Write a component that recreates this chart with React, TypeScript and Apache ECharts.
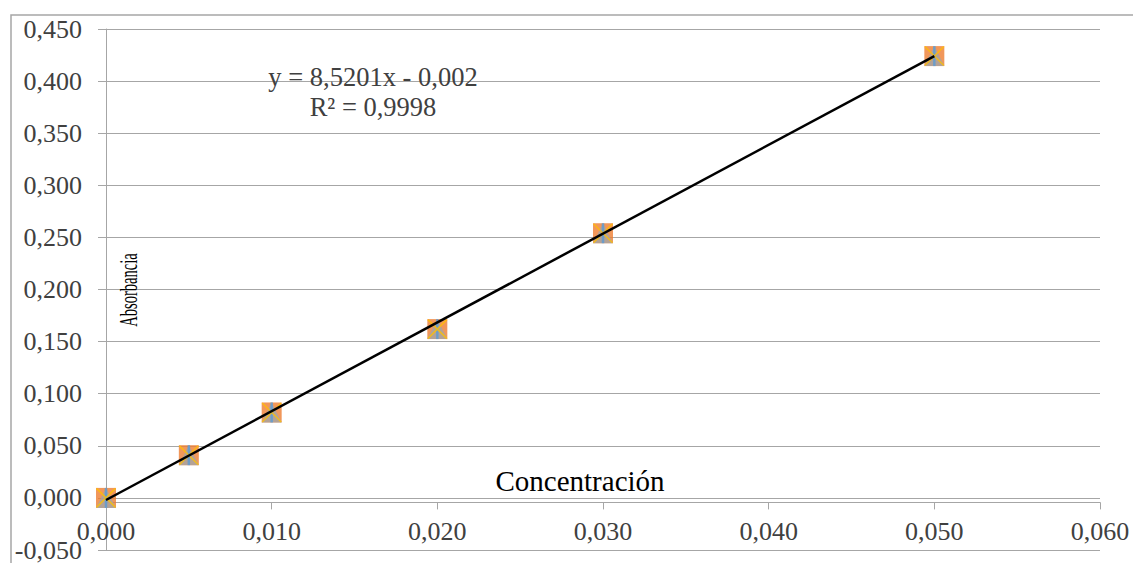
import React, { useEffect, useRef } from "react";
import * as echarts from "echarts";

const concentrations = [0, 0.005, 0.01, 0.02, 0.03, 0.05];
const absorbances = [0, 0.041, 0.082, 0.162, 0.254, 0.424];
const trendX = [0, 0.05];
const trendY = [-0.002, 0.424];
const equationText = "y = 8,5201x - 0,002";
const r2Text = "R² = 0,9998";
const xTitle = "Concentración";
const yTitle = "Absorbancia";

const fmt = (v: number) => "{s|" + v.toFixed(3).replace(".", ",") + "}";
const FONT = '"Liberation Serif", "Times New Roman", serif';
const GRID = "#a6a6a6";

export default function App() {
  const ref = useRef<HTMLDivElement>(null);
  useEffect(() => {
    document.body.style.margin = "0";
    const chart = echarts.init(ref.current!, null, { renderer: "svg" });
    const pts = concentrations.map((x, i) => [x, absorbances[i]]);
    const labelStyle = {
      formatter: fmt,
      fontFamily: "serif",
      fontSize: 26,
      color: "#404040",
      rich: {
        s: { fontFamily: "Liberation Serif", fontSize: 26, color: "#404040" },
      },
    };
    chart.setOption({
      animation: false,
      backgroundColor: "#ffffff",
      grid: [
        { left: 106, right: 33, top: 29, bottom: 8, containLabel: false },
        { left: 106, right: 33, top: 29, bottom: 60.6, containLabel: false },
      ],
      xAxis: [
        {
          type: "value",
          gridIndex: 0,
          min: 0,
          max: 0.06,
          interval: 0.01,
          axisLine: { show: false },
          axisTick: { show: false },
          axisLabel: { show: false },
          splitLine: { show: false },
        },
        {
          type: "value",
          gridIndex: 1,
          min: 0,
          max: 0.06,
          interval: 0.01,
          axisLine: { show: true, onZero: false, lineStyle: { color: GRID, width: 1 } },
          axisTick: { show: true, length: 7, lineStyle: { color: GRID } },
          axisLabel: { ...labelStyle, margin: 16 },
          splitLine: { show: false },
        },
      ],
      yAxis: [
        {
          type: "value",
          gridIndex: 0,
          min: -0.05,
          max: 0.45,
          interval: 0.05,
          axisLine: { show: true, onZero: false, lineStyle: { color: GRID, width: 1 } },
          axisTick: { show: true, length: 8, lineStyle: { color: GRID } },
          axisLabel: { ...labelStyle, margin: 24 },
          splitLine: { show: true, lineStyle: { color: GRID, width: 1 } },
        },
        {
          type: "value",
          gridIndex: 1,
          min: 0,
          max: 0.45,
          interval: 0.05,
          show: false,
        },
      ],
      graphic: [
        {
          type: "rect",
          shape: { x: 11, y: 15, width: 1300, height: 700 },
          style: { fill: "none", stroke: GRID, lineWidth: 1.5 },
          silent: true,
          z: 0,
        },
        {
          type: "text",
          x: 373,
          y: 77,
          style: { text: equationText, font: `26.5px ${FONT}`, fill: "#404040", textAlign: "center", textVerticalAlign: "middle" },
          z: 10,
        },
        {
          type: "text",
          x: 373,
          y: 107,
          style: { text: r2Text, font: `26.5px ${FONT}`, fill: "#404040", textAlign: "center", textVerticalAlign: "middle" },
          z: 10,
        },
        {
          type: "text",
          x: 580,
          y: 481,
          style: { text: xTitle, font: `29px ${FONT}`, fill: "#000000", textAlign: "center", textVerticalAlign: "middle" },
          z: 10,
        },
        {
          type: "text",
          x: 128,
          y: 290,
          rotation: Math.PI / 2,
          scaleX: 0.56,
          style: { text: yTitle, font: `26px ${FONT}`, fill: "#000000", textAlign: "center", textVerticalAlign: "middle" },
          z: 10,
        },
      ],
      series: [
        {
          type: "scatter",
          data: pts,
          symbol: "rect",
          symbolSize: 20,
          itemStyle: { color: "#ED7D31" },
          z: 2,
        },
        {
          type: "scatter",
          data: pts,
          symbol: "triangle",
          symbolSize: 20,
          itemStyle: { color: "#A5A5A5" },
          z: 3,
        },
        {
          type: "scatter",
          data: pts,
          symbol: "rect",
          symbolSize: [2.5, 20],
          itemStyle: { color: "#5B9BD5" },
          z: 4,
        },
        {
          type: "scatter",
          data: pts,
          symbol: "path://M0,0L10,10M10,0L0,10",
          symbolSize: 19,
          itemStyle: { color: "none", borderColor: "#FFC000", borderWidth: 1.5 },
          z: 5,
        },
        {
          type: "line",
          data: trendX.map((x, i) => [x, trendY[i]]),
          symbol: "none",
          lineStyle: { color: "#000000", width: 2.5 },
          z: 6,
        },
      ],
    });
    return () => chart.dispose();
  }, []);
  return <div ref={ref} style={{ width: 1133, height: 563 }} />;
}
